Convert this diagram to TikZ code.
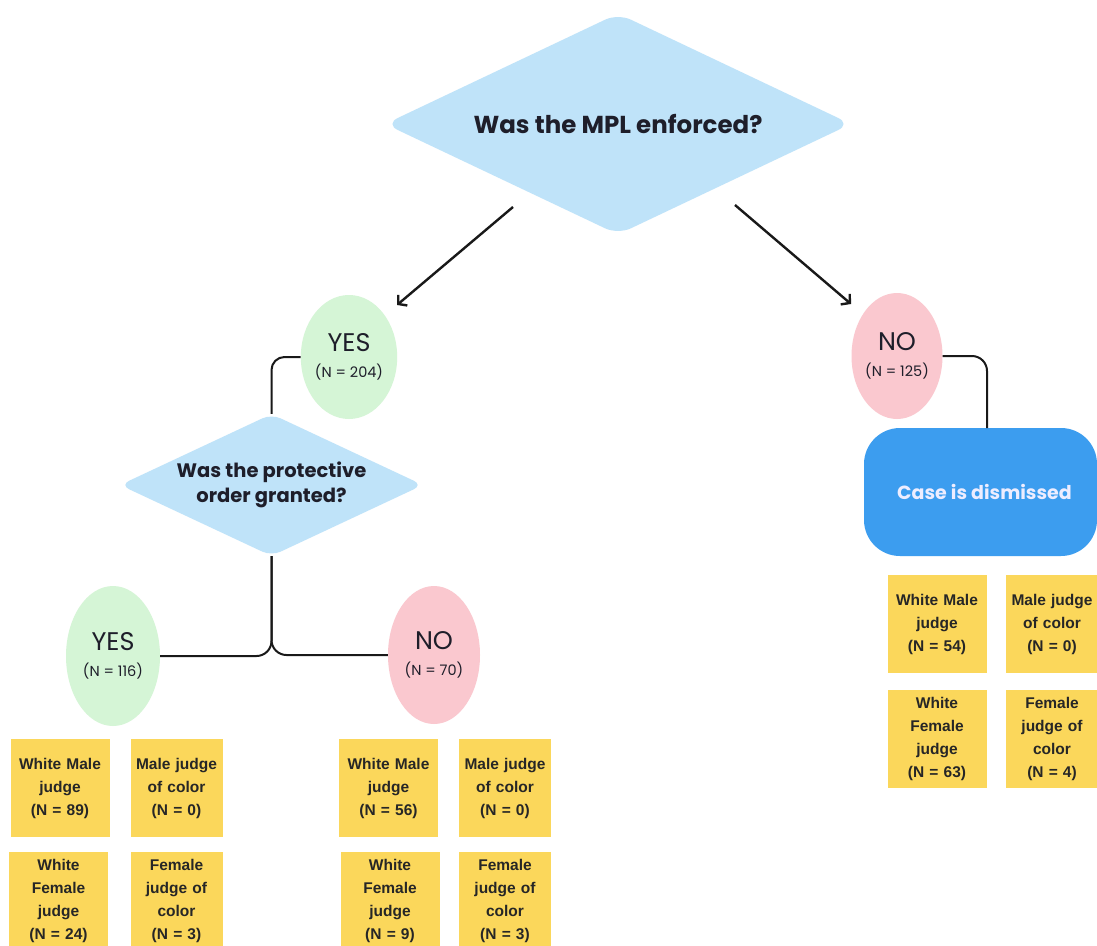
\documentclass[tikz,border=0pt]{standalone}
\usepackage{fontspec}
\setmainfont{Poppins}
\newfontfamily\arialb{Liberation Sans}
\usetikzlibrary{shapes.geometric,arrows.meta}
\definecolor{dia}{HTML}{BFE3F9}
\definecolor{grn}{HTML}{D5F5D6}
\definecolor{pnk}{HTML}{FAC8CF}
\definecolor{yel}{HTML}{FBD75B}
\definecolor{blu}{HTML}{3C9DEF}
\definecolor{ink}{HTML}{1E1E2A}
\tikzset{
  decision/.style={shape=diamond, fill=dia, inner sep=0pt, align=center, text=ink},
  yesnode/.style={ellipse, fill=grn, inner sep=0pt, align=center, text=ink, font=\fontsize{10}{26}\selectfont},
  nonode/.style={ellipse, fill=pnk, inner sep=0pt, align=center, text=ink, font=\fontsize{10}{26}\selectfont},
  ybox/.style={fill=yel, inner sep=0pt, align=center, minimum height=98pt, text=black!85,
     font=\arialb\bfseries\fontsize{15.5}{23}\selectfont},
  wide/.style={ybox, text width=99pt},
  narrow/.style={ybox, text width=92pt},
  conn/.style={line width=2pt, draw=black!90},
  arr/.style={line width=2.4pt, draw=black!90, -{Straight Barb[length=6pt,width=14pt,line width=2.4pt]}},
}
\newcommand{\ncount}[2]{{\fontsize{25.5}{26}\selectfont #1}\\{\fontsize{14.5}{26}\selectfont #2}}
\begin{document}
\begin{tikzpicture}[x=1pt,y=-1pt]
\useasboundingbox (0,0) rectangle (1097,945);
\clip (0,0) rectangle (1097,945);
\fill[white] (0,0) rectangle (1097,945);

% top decision
\node[decision, aspect=2.1, minimum width=466pt, minimum height=221pt, rounded corners=14pt,
      font=\bfseries\fontsize{24.5}{26}\selectfont] (d1) at (618,124) {Was the MPL enforced?};

% first level outcomes
\node[yesnode, minimum width=94pt, minimum height=124pt] (yes1) at (349,357) {\ncount{YES}{(N = 204)}};
\node[nonode, minimum width=91pt, minimum height=126pt] (no1) at (897,356) {\ncount{NO}{(N = 125)}};

% arrows
\coordinate (a1s) at (513,207);
\coordinate (a1e) at (397,305);
\coordinate (a2s) at (735,205);
\coordinate (a2e) at (851,304);
\draw[arr] (a1s) -- (a1e);
\draw[arr] (a2s) -- (a2e);

% second decision
\node[decision, aspect=2.15, minimum width=303pt, minimum height=142pt, rounded corners=10pt,
      font=\bfseries\fontsize{19.5}{25}\selectfont] (d2) at (271.5,485) {Was the protective\\order granted?};

\draw[conn, rounded corners=13pt] (yes1.west) -| (d2.north);

% second level outcomes
\node[yesnode, minimum width=94pt, minimum height=140pt] (yes2) at (113,656) {\ncount{YES}{(N = 116)}};
\node[nonode, minimum width=92pt, minimum height=138pt] (no2) at (434,655) {\ncount{NO}{(N = 70)}};

\draw[conn, rounded corners=15pt] (d2.south) |- (yes2.east);
\draw[conn, rounded corners=15pt] (d2.south) |- (no2.west);

% case dismissed
\node[fill=blu, rounded corners=36pt, minimum width=233pt, minimum height=128pt, inner sep=0pt,
      text=white!93!blue, font=\bfseries\fontsize{19}{22}\selectfont] (case) at (980.5,492) {\hspace*{8pt}Case is dismissed};
\coordinate (caseTop) at (987,428);
\draw[conn, rounded corners=15pt] (no1.east) -| (caseTop);

% yellow boxes: YES branch
\node[wide]   (y1) at (60,788)   {White Male\\judge\\(N = 89)};
\node[narrow] (y2) at (176.5,788) {Male judge\\of color\\(N = 0)};
\node[wide]   (y3) at (58.5,901) {White\\Female\\judge\\(N = 24)};
\node[narrow] (y4) at (176.5,901) {Female\\judge of\\color\\(N = 3)};

% yellow boxes: NO branch
\node[wide]   (n1) at (388.5,788) {White Male\\judge\\(N = 56)};
\node[narrow] (n2) at (505,788)   {Male judge\\of color\\(N = 0)};
\node[wide]   (n3) at (390,901)   {White\\Female\\judge\\(N = 9)};
\node[narrow] (n4) at (505,901)   {Female\\judge of\\color\\(N = 3)};

% yellow boxes: dismissed
\node[wide]   (c1) at (937,624)  {White Male\\judge\\(N = 54)};
\node[narrow] (c2) at (1052,624) {Male judge\\of color\\(N = 0)};
\node[wide]   (c3) at (937,739)  {White\\Female\\judge\\(N = 63)};
\node[narrow] (c4) at (1052,739) {Female\\judge of\\color\\(N = 4)};
\end{tikzpicture}
\end{document}
